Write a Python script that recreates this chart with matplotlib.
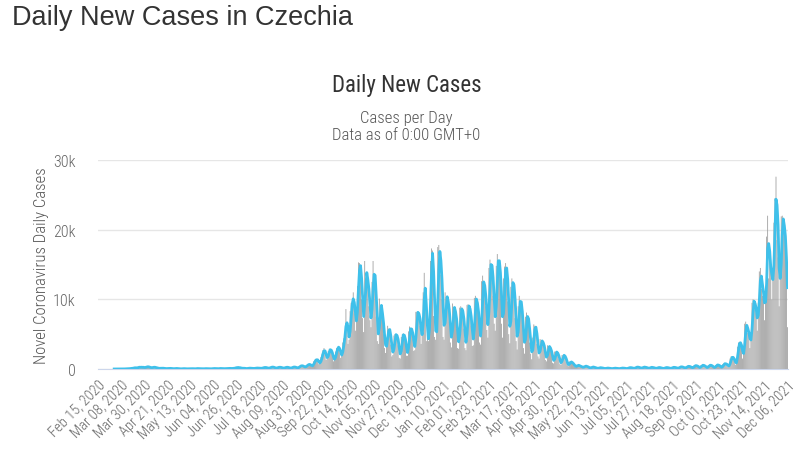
import numpy as np
import pandas as pd
import matplotlib
matplotlib.use("Agg")
import matplotlib.pyplot as plt
from matplotlib.ticker import FuncFormatter

START = "2020-02-15"

# daily new cases, one row per week (Sat..Fri)
daily_cases = [
    0, 0, 0, 0, 0, 0, 0,
    0, 0, 0, 0, 0, 0, 0,
    0, 3, 0, 2, 0, 1, 4,
    7, 6, 9, 9, 23, 26, 33,
    46, 39, 84, 85, 96, 150, 200,
    180, 110, 250, 220, 290, 220, 260,
    250, 230, 170, 280, 370, 300, 270,
    230, 150, 210, 280, 250, 220, 180,
    130, 90, 80, 150, 130, 90, 120,
    80, 60, 40, 110, 90, 100, 80,
    70, 40, 30, 75, 90, 70, 40,
    30, 20, 20, 70, 50, 40, 30,
    30, 20, 30, 40, 50, 50, 40,
    30, 20, 50, 90, 60, 40, 50,
    40, 20, 25, 60, 60, 40, 45,
    30, 20, 20, 50, 70, 70, 70,
    50, 30, 40, 70, 90, 70, 60,
    50, 40, 60, 80, 80, 90, 100,
    80, 60, 90, 110, 120, 170, 260,
    160, 230, 170, 130, 90, 110, 120,
    80, 50, 60, 130, 120, 120, 100,
    90, 70, 80, 130, 150, 140, 120,
    110, 90, 110, 180, 210, 250, 200,
    160, 100, 120, 230, 260, 280, 290,
    180, 110, 130, 220, 250, 260, 240,
    190, 110, 120, 200, 250, 270, 230,
    170, 110, 130, 240, 290, 300, 260,
    200, 120, 170, 380, 430, 500, 460,
    350, 250, 290, 500, 650, 640, 700,
    500, 340, 500, 1100, 1160, 1450, 1380,
    1100, 700, 800, 1700, 2100, 2700, 3000,
    2100, 1300, 1500, 2600, 2900, 2800, 2400,
    1800, 1100, 1300, 2500, 3000, 3100, 3300,
    2400, 1600, 2000, 3800, 4400, 5300, 8600,
    6000, 3600, 4200, 8300, 9500, 9700, 11000,
    8000, 5500, 7200, 11900, 15300, 15200, 14000,
    10000, 7300, 5300, 15500, 13000, 13000, 12500,
    9000, 7000, 6000, 12500, 15500, 12800, 12000,
    7500, 4000, 3600, 10100, 9000, 8300, 6800,
    5000, 3000, 2300, 4500, 6200, 5800, 5000,
    3500, 1800, 2000, 4800, 5000, 5000, 4400,
    3400, 1600, 1500, 4600, 5000, 5100, 4400,
    3300, 1900, 1900, 5400, 6100, 5800, 5300,
    4400, 2600, 2700, 8200, 8200, 8000, 7500,
    6200, 3600, 5000, 11000, 13800, 10000, 4000,
    5000, 4000, 8000, 15500, 17300, 17000, 7600,
    4600, 4200, 7200, 17500, 17800, 15300, 13500,
    10000, 4600, 4200, 11000, 10300, 9800, 9000,
    6800, 3800, 3100, 9400, 8900, 8200, 7600,
    5800, 3000, 2900, 8800, 9000, 8100, 7800,
    5800, 3000, 2700, 9200, 9300, 8600, 7900,
    6200, 3300, 3400, 10200, 10500, 9400, 8500,
    6900, 3800, 3500, 12600, 13400, 11500, 11000,
    9000, 5600, 4500, 14500, 15700, 14800, 14000,
    10500, 6500, 5500, 14800, 16500, 15300, 14800,
    11500, 6500, 4500, 13000, 14700, 15200, 13600,
    9700, 5000, 3700, 11800, 13000, 12400, 10800,
    7300, 4000, 2800, 9000, 10500, 9600, 8800,
    6300, 3000, 2200, 7500, 8100, 7000, 6500,
    3800, 2200, 1400, 4500, 6400, 6200, 5400,
    3600, 1800, 1500, 4300, 4100, 3700, 3600,
    2700, 1300, 1100, 3400, 3300, 3000, 2700,
    2000, 900, 800, 2500, 2500, 2300, 2000,
    1400, 700, 600, 2000, 2000, 1900, 1600,
    1000, 500, 400, 1100, 1050, 900, 800,
    600, 300, 260, 600, 550, 450, 400,
    400, 200, 170, 450, 420, 380, 300,
    250, 120, 100, 320, 300, 250, 210,
    160, 80, 60, 200, 200, 170, 150,
    110, 50, 50, 150, 140, 120, 100,
    90, 40, 40, 130, 120, 110, 90,
    80, 40, 40, 140, 140, 130, 120,
    90, 50, 40, 170, 210, 200, 180,
    140, 70, 70, 260, 280, 270, 250,
    180, 90, 90, 300, 270, 260, 230,
    170, 80, 80, 260, 240, 230, 200,
    150, 80, 70, 220, 230, 200, 180,
    130, 60, 60, 200, 220, 210, 180,
    140, 70, 70, 230, 250, 240, 210,
    160, 80, 90, 290, 320, 310, 280,
    210, 100, 110, 370, 400, 380, 340,
    270, 130, 130, 480, 500, 480, 420,
    330, 160, 150, 530, 560, 520, 460,
    330, 160, 150, 520, 560, 540, 470,
    350, 150, 170, 560, 600, 580, 500,
    370, 180, 200, 700, 800, 780, 650,
    600, 300, 400, 1500, 1800, 1700, 1500,
    1100, 600, 900, 3200, 3800, 3900, 3600,
    2700, 1500, 2500, 6500, 6800, 5500, 5200,
    5000, 3000, 4500, 9500, 10000, 9700, 8500,
    8000, 5500, 9500, 14000, 14500, 11500, 10500,
    11000, 7000, 10800, 19000, 22000, 13000, 15700,
    15000, 10000, 13500, 21000, 24500, 27600, 18500,
    16000, 9000, 14000, 21900, 22000, 20700, 19000,
    17500, 11500, 6000,
]

y_ticks = [0, 10000, 20000, 30000]
tick_step = 22

daily = np.array(daily_cases, dtype=float)
n = len(daily)
dates = pd.date_range(START, periods=n, freq="D")
x = np.arange(n)

# 3-day moving average, shown once cases have started
avg = pd.Series(daily).rolling(3, min_periods=1).mean().to_numpy()
avg[np.cumsum(daily) == 0] = np.nan

cond = ["Roboto Condensed", "DejaVu Sans"]
LIGHT = 300

fig = plt.figure(figsize=(8, 4.56), dpi=100)
ax = fig.add_axes([0.1225, 0.1886, 0.8625, 0.4584])

ax.bar(x, daily, width=0.75, color="#9a9a9a", edgecolor="none", zorder=2, snap=False)
ax.plot(x, avg, color="#3fc0ea", lw=2.0, zorder=3, solid_joinstyle="round")

ax.set_xlim(-0.5, n - 0.5)
ax.set_ylim(0, 30000)
ax.set_yticks(y_ticks)
ax.yaxis.set_major_formatter(FuncFormatter(lambda v, p: "0" if v == 0 else f"{int(v/1000)}k"))
ax.grid(axis="y", color="#e6e6e6", lw=1, zorder=0)
for s in ["top", "right", "left"]:
    ax.spines[s].set_visible(False)
ax.spines["bottom"].set_color("#ccd6eb")
ax.tick_params(axis="y", length=0, labelsize=11.5, labelcolor="#666666", pad=16)
for t in ax.get_yticklabels():
    t.set_family(cond)
    t.set_weight(LIGHT)

ticks = x[::tick_step]
ax.set_xticks(ticks)
ax.set_xticklabels([d.strftime("%b %d, %Y") for d in dates[::tick_step]],
                   rotation=45, ha="right", rotation_mode="anchor",
                   fontsize=10.5, color="#666666", family=cond, weight=LIGHT)
ax.tick_params(axis="x", length=0, pad=6)

ax.set_ylabel("Novel Coronavirus Daily Cases", fontsize=12, color="#555555",
              family=cond, weight=LIGHT, labelpad=3)

fig.text(0.015, 0.96, "Daily New Cases in Czechia", fontsize=19.5,
         color="#333333", family=["Liberation Sans", "DejaVu Sans"], va="center")
fig.text(0.508, 0.813, "Daily New Cases", fontsize=16.5, color="#333333",
         family=cond, weight="normal", ha="center", va="center")
fig.text(0.508, 0.741, "Cases per Day", fontsize=12, color="#555555",
         family=cond, weight=LIGHT, ha="center", va="center")
fig.text(0.508, 0.703, "Data as of 0:00 GMT+0", fontsize=12, color="#555555",
         family=cond, weight=LIGHT, ha="center", va="center")

plt.savefig("out.png", dpi=100)
